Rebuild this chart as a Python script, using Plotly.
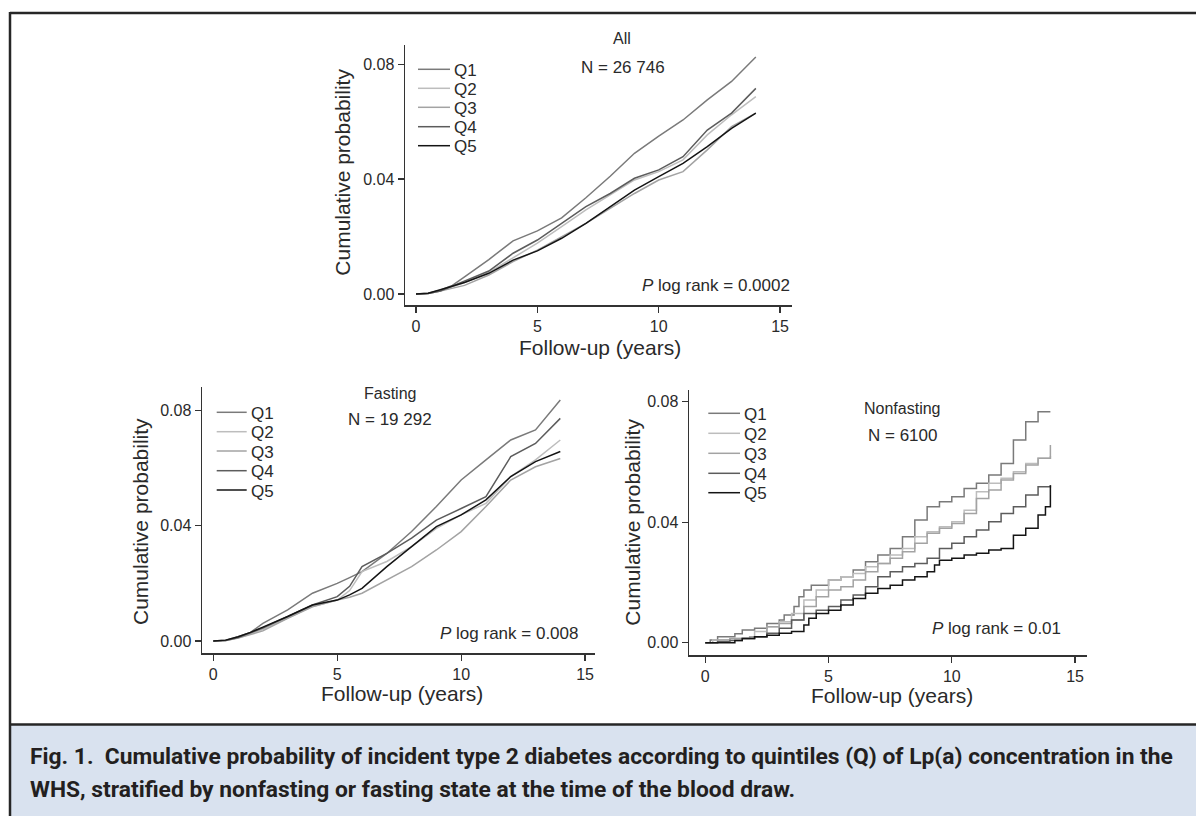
import plotly.graph_objects as go

W, H = 1196, 816

# ---------------- data ----------------
quintiles = ["Q1", "Q2", "Q3", "Q4", "Q5"]
colors = ["#7a7a7a", "#bdbdbd", "#a3a3a3", "#5c5c5c", "#141414"]

# All (N = 26 746)
t_all = [0, 0.5, 1, 1.5, 2, 3, 4, 5, 6, 7, 8, 9, 10, 11, 12, 13, 14]
all_q1 = [0, .0003, .0013, .003, .006, .012, .0185, .022, .0265, .0335, .041, .049, .055, .0606, .0676, .074, .0825]
all_q2 = [0, .0002, .001, .0025, .004, .0075, .0125, .0177, .0235, .0293, .0345, .0397, .0426, .0467, .0554, .0624, .0687]
all_q3 = [0, .0002, .001, .002, .003, .0066, .0113, .0153, .02, .0246, .0298, .035, .0397, .0426, .0502, .0583, .063]
all_q4 = [0, .0002, .001, .0028, .0045, .008, .0142, .0188, .0246, .0304, .035, .0403, .0432, .0478, .0571, .063, .0716]
all_q5 = [0, .0003, .0015, .0028, .004, .0072, .0118, .015, .0194, .0246, .0304, .0362, .0409, .0455, .0513, .0577, .063]

# Fasting (N = 19 292)
t_fast = [0, 0.5, 1, 1.5, 2, 3, 4, 5, 5.5, 6, 7, 8, 9, 10, 11, 12, 13, 14]
fast_q1 = [0, .0003, .0015, .003, .0061, .0108, .0166, .02, .022, .0241, .0304, .038, .0467, .0559, .0629, .0698, .0733, .0837]
fast_q2 = [0, .0002, .001, .0025, .004, .008, .012, .0142, .0175, .0241, .0276, .0328, .0391, .0438, .0478, .0571, .0629, .0698]
fast_q3 = [0, .0002, .001, .0022, .0035, .0079, .0119, .0142, .0152, .0166, .0212, .0258, .0316, .038, .0467, .0559, .0605, .0634]
fast_q4 = [0, .0002, .0012, .0028, .0045, .0085, .0125, .0154, .019, .0258, .0304, .0357, .042, .046, .0501, .064, .0686, .0773]
fast_q5 = [0, .0003, .0015, .003, .0048, .0085, .0125, .0142, .016, .0183, .0258, .0328, .0397, .0438, .049, .0571, .0623, .0658]

# Nonfasting (N = 6100) - step functions
nf_t1 = [0, 0.2, 0.5, 1.2, 1.5, 2, 2.5, 3, 3.2, 3.6, 3.8, 4, 4.3, 5, 5.5, 6, 6.5, 7, 7.5, 8, 8.5, 9, 9.5, 10, 10.5, 11, 11.5, 12, 12.5, 13, 13.5, 14]
nf_q1 = [0, .0009, .002, .003, .0042, .0048, .0064, .0075, .0092, .012, .0153, .0175, .0191, .0208, .0219, .0241, .0269, .0291, .0313, .0352, .0407, .0451, .0468, .0485, .0512, .0529, .0557, .0595, .0673, .0734, .0767, .0767]
nf_t2 = [0, 0.3, 1, 2, 2.5, 3, 3.5, 4, 4.5, 5, 5.5, 6, 6.5, 7, 7.5, 8, 8.5, 9, 9.5, 10, 10.5, 11, 11.5, 12, 12.5, 13, 13.5, 14]
nf_q2 = [0, .0009, .0014, .0037, .0053, .007, .0097, .0142, .0175, .0208, .0219, .023, .0252, .0263, .0291, .0313, .0352, .0368, .0385, .0402, .044, .0501, .0529, .0546, .0568, .0595, .0612, .062]
nf_t3 = [0, 0.5, 1, 1.8, 2.5, 3, 3.5, 4, 4.5, 5, 5.5, 6, 6.5, 7, 7.5, 8, 8.5, 9, 9.5, 10, 10.5, 11, 11.5, 12, 12.5, 13, 13.5, 14]
nf_q3 = [0, .0009, .0014, .002, .0053, .0064, .0075, .012, .0153, .0175, .0186, .0208, .0236, .0263, .028, .0302, .033, .0363, .038, .0396, .0429, .0479, .0507, .054, .0562, .059, .0612, .0656]
nf_t4 = [0, 0.5, 1, 1.5, 2, 2.5, 3, 3.5, 4, 4.5, 5, 5.5, 6, 6.5, 7, 7.5, 8, 8.5, 9, 9.5, 10, 10.5, 11, 11.5, 12, 12.5, 13, 13.5, 14]
nf_q4 = [0, .0003, .0007, .0014, .002, .0031, .0048, .0075, .0097, .0108, .012, .0142, .0158, .0186, .0219, .0236, .0252, .0263, .028, .0313, .033, .0352, .0374, .0402, .0429, .0451, .049, .0518, .0523]
nf_t5 = [0, 1.2, 1.5, 2, 2.5, 3, 3.5, 4, 4.2, 4.5, 5, 5.5, 6, 6.5, 7, 7.5, 8, 8.5, 9, 9.3, 9.5, 10, 10.5, 11, 11.5, 12, 12.5, 13, 13.5, 13.8, 14]
nf_q5 = [0, .0007, .0014, .002, .0025, .0031, .0037, .0059, .0081, .0097, .0108, .0125, .0147, .0164, .018, .0191, .0208, .0219, .0236, .0258, .0274, .028, .0291, .0297, .0308, .0313, .0357, .038, .0424, .0451, .0523]

x_ticks = [0, 5, 10, 15]
y_ticks = [0, 0.04, 0.08]
panel_titles = ["All", "Fasting", "Nonfasting"]
panel_n = ["N = 26 746", "N = 19 292", "N = 6100"]
panel_p = ["0.0002", "0.008", "0.01"]
x_title = "Follow-up (years)"
y_title = "Cumulative probability"
caption_bold = "Fig. 1."
caption_line1 = "Cumulative probability of incident type 2 diabetes according to quintiles (Q) of Lp(a) concentration in the"
caption_line2 = "WHS, stratified by nonfasting or fasting state at the time of the blood draw."

# ---------------- layout helpers ----------------
def px(x):
    return x / W

def py(y):
    return 1 - y / H

FONT = "Liberation Sans, Arial, Helvetica, sans-serif"
TXT = "#2a2a2a"
AX = "#333333"

fig = go.Figure()

series = [
    ("", [(t_all, all_q1), (t_all, all_q2), (t_all, all_q3), (t_all, all_q4), (t_all, all_q5)], "linear"),
    ("2", [(t_fast, fast_q1), (t_fast, fast_q2), (t_fast, fast_q3), (t_fast, fast_q4), (t_fast, fast_q5)], "linear"),
    ("3", [(nf_t1, nf_q1), (nf_t2, nf_q2), (nf_t3, nf_q3), (nf_t4, nf_q4), (nf_t5, nf_q5)], "hv"),
]
for suffix, data, shape in series:
    for i, (tt, yy) in enumerate(data):
        fig.add_trace(go.Scatter(
            x=tt, y=yy, mode="lines", name=quintiles[i],
            line=dict(color=colors[i], width=1.5, shape=shape),
            xaxis="x" + suffix, yaxis="y" + suffix, showlegend=False,
            hoverinfo="skip"))

panels = [
    dict(xl=405, xr=792, yt=45, yb=305, xr_=[-0.453, 15.49], yr_=[-0.00383, 0.0867]),
    dict(xl=202, xr=595, yt=387, yb=653, xr_=[-0.456, 15.40], yr_=[-0.00417, 0.0882]),
    dict(xl=689, xr=1087, yt=390, yb=655, xr_=[-0.661, 15.485], yr_=[-0.00408, 0.0839]),
]

axis_common = dict(showline=True, linecolor=AX, linewidth=1.5, ticks="outside",
                   ticklen=6, tickwidth=1.3, tickcolor=AX, showgrid=False,
                   zeroline=False, tickfont=dict(family=FONT, size=16, color=TXT))
layout_axes = {}
for k, p in enumerate(panels):
    s = "" if k == 0 else str(k + 1)
    layout_axes["xaxis" + s] = dict(axis_common, domain=[px(p["xl"]), px(p["xr"])],
                                    range=p["xr_"], tickvals=x_ticks, anchor="y" + s)
    layout_axes["yaxis" + s] = dict(axis_common, domain=[py(p["yb"]), py(p["yt"])],
                                    range=p["yr_"], tickvals=y_ticks, tickformat=".2f",
                                    anchor="x" + s)

annotations = []
shapes = []

def text(x, y, s, size=17, xanchor="center", angle=0, color=TXT, family=FONT):
    annotations.append(dict(x=px(x), y=py(y), xref="paper", yref="paper", text=s,
                            showarrow=False, xanchor=xanchor, yanchor="middle",
                            textangle=angle,
                            font=dict(family=family, size=size, color=color)))

text_pos = [
    dict(title=(622, 38), n=(623, 67), p=(792, 285), xt=(600, 347), yt=(341.7, 172),
         leg_x=(418, 450, 452), leg_y=[69.3, 88.3, 107.3, 126.7, 145.7]),
    dict(title=(390, 393), n=(390, 420), p=(580, 633), xt=(402, 693), yt=(140, 522),
         leg_x=(216.7, 246.7, 248.5), leg_y=[412.3, 431.7, 451, 470.7, 490]),
    dict(title=(902, 408), n=(902, 435), p=(1063, 628), xt=(892, 695), yt=(631.7, 522),
         leg_x=(708.3, 740, 742), leg_y=[413.3, 433.3, 453.3, 473.3, 492.7]),
]
for k, tp in enumerate(text_pos):
    text(*tp["title"], panel_titles[k], size=16)
    text(*tp["n"], panel_n[k], size=17)
    text(*tp["p"], "<i>P</i> log rank = " + panel_p[k], size=17, xanchor="right")
    text(*tp["xt"], x_title, size=21)
    text(*tp["yt"], y_title, size=21, angle=-90)
    x0, x1, xlab = tp["leg_x"]
    for i, yy in enumerate(tp["leg_y"]):
        shapes.append(dict(type="line", xref="paper", yref="paper",
                           x0=px(x0), x1=px(x1), y0=py(yy), y1=py(yy),
                           line=dict(color=colors[i], width=1.5)))
        text(xlab, yy + 1, quintiles[i], size=17, xanchor="left")

# frame and caption band
FRAME = "#262626"
shapes.append(dict(type="rect", xref="paper", yref="paper", x0=px(11), x1=1.01,
                   y0=py(820), y1=py(725), fillcolor="#d9e2ef", line=dict(width=0),
                   layer="below"))
shapes.append(dict(type="line", xref="paper", yref="paper", x0=px(10), x1=1.01,
                   y0=py(13), y1=py(13), line=dict(color=FRAME, width=2.5)))
shapes.append(dict(type="line", xref="paper", yref="paper", x0=px(10), x1=px(10),
                   y0=py(12), y1=py(820), line=dict(color=FRAME, width=2.5)))
shapes.append(dict(type="line", xref="paper", yref="paper", x0=px(10), x1=1.01,
                   y0=py(724.5), y1=py(724.5), line=dict(color=FRAME, width=2.5)))

CAP_FONT = "Roboto, Liberation Sans, Arial, sans-serif"
CAP_SIZE = 22.8
annotations.append(dict(x=px(28), y=py(756), xref="paper", yref="paper",
                        text="<b>" + caption_bold + "&nbsp; " + caption_line1 + "</b>",
                        showarrow=False, xanchor="left", yanchor="middle",
                        font=dict(family=CAP_FONT, size=CAP_SIZE, color="#231f20")))
annotations.append(dict(x=px(28), y=py(789), xref="paper", yref="paper",
                        text="<b>" + caption_line2 + "</b>",
                        showarrow=False, xanchor="left", yanchor="middle",
                        font=dict(family=CAP_FONT, size=CAP_SIZE, color="#231f20")))

fig.update_layout(
    width=W, height=H, margin=dict(l=0, r=0, t=0, b=0),
    paper_bgcolor="white", plot_bgcolor="rgba(0,0,0,0)",
    showlegend=False, annotations=annotations, shapes=shapes,
    **layout_axes)

fig.write_html("out.html", config={"displayModeBar": False, "staticPlot": True},
               post_script="document.body.style.margin='0';document.body.style.overflow='hidden';")
